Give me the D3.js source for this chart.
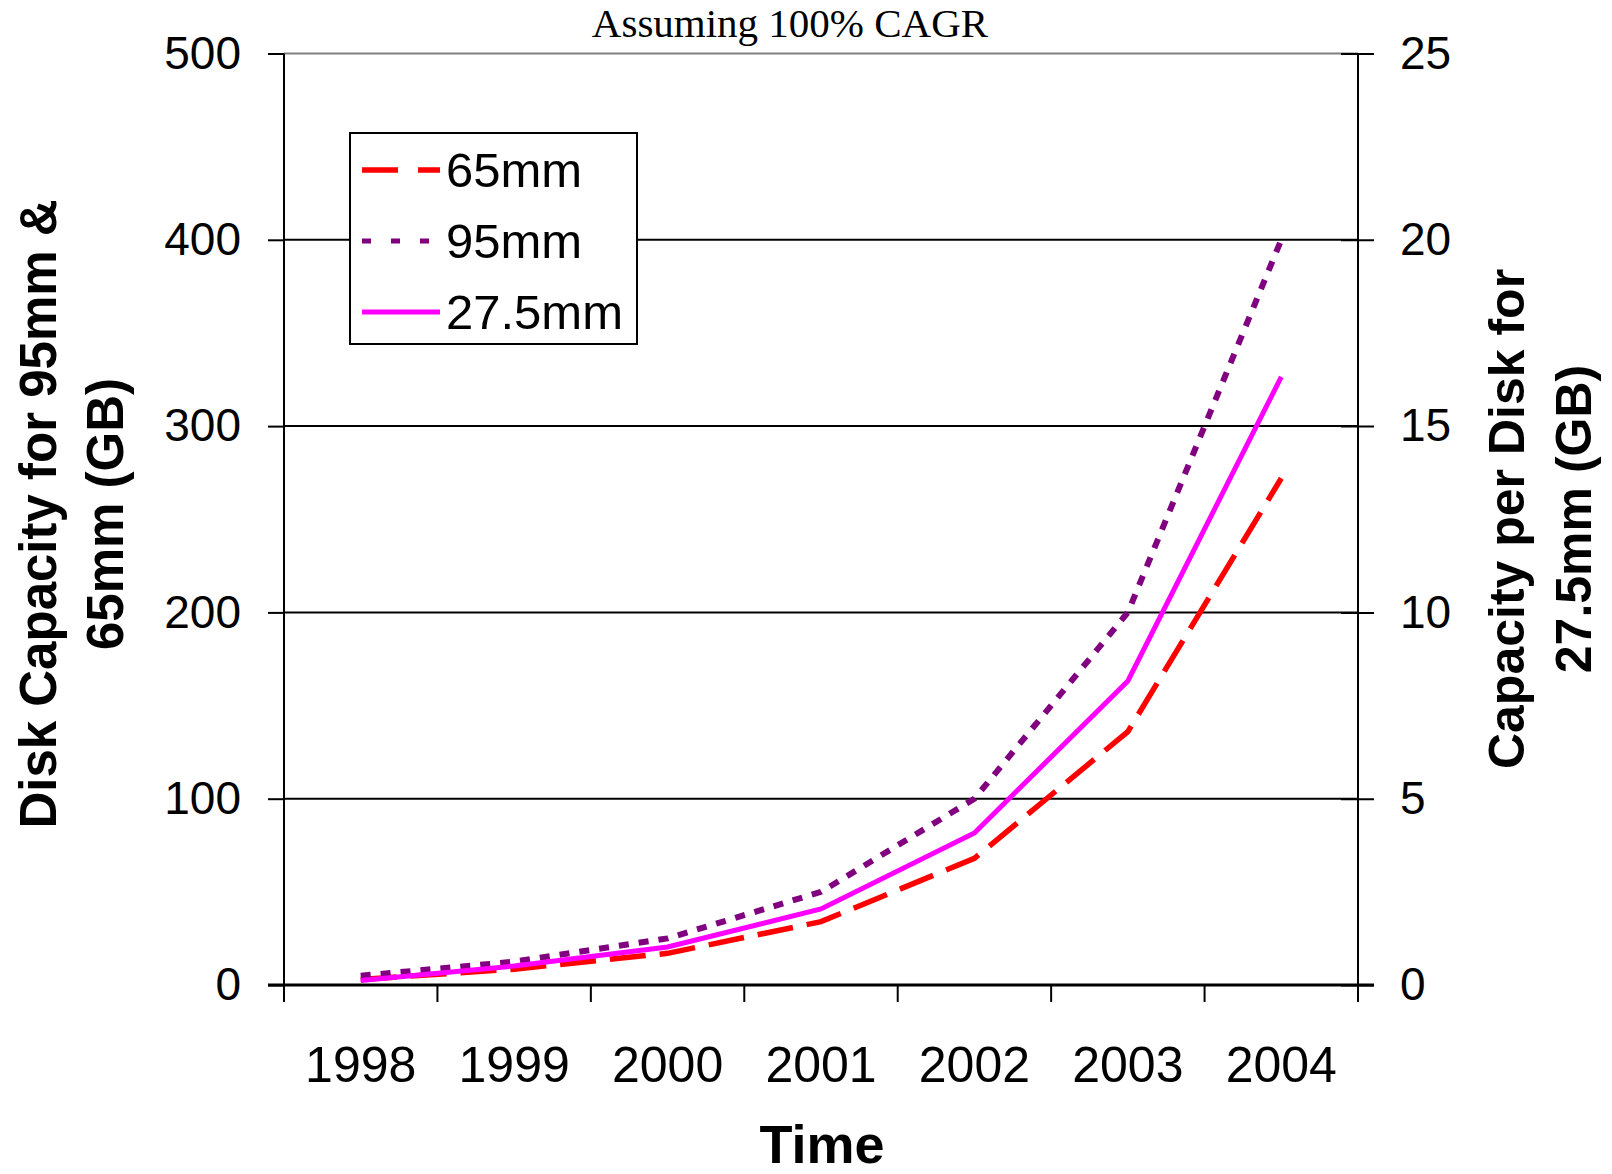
<!DOCTYPE html>
<html>
<head>
<meta charset="utf-8">
<script src="https://cdn.jsdelivr.net/npm/d3@7"></script>
<style>
  body { margin: 0; background: #fff; }
  text { font-family: "Liberation Sans", Arial, sans-serif; }
</style>
</head>
<body>
<svg width="1612" height="1174"></svg>
<script>
// disk capacity, assuming 100% CAGR
var years = ["1998", "1999", "2000", "2001", "2002", "2003", "2004"];
var cap65 = [3, 8.5, 17, 34, 68, 136, 272];         // left axis, GB
var cap95 = [5, 12.5, 25, 50, 100, 200, 400];       // left axis, GB
var cap275 = [0.12, 0.51, 1.02, 2.04, 4.08, 8.16, 16.32]; // right axis, GB
var leftTicks = [0, 100, 200, 300, 400, 500];
var rightTicks = [0, 5, 10, 15, 20, 25];

var svg = d3.select("svg"),
    plotL = 284, plotR = 1358, plotT = 53.5, plotB = 985;

var x = d3.scaleBand().domain(years).range([plotL, plotR]);
var yL = d3.scaleLinear().domain([0, 500]).range([plotB, plotT]);
var yR = d3.scaleLinear().domain([0, 25]).range([plotB, plotT]);

// gridlines
svg.append("g").selectAll("line")
    .data(leftTicks.filter(function (d) { return d > 0; }))
    .enter().append("line")
    .attr("x1", plotL).attr("x2", plotR)
    .attr("y1", function (d) { return yL(d); })
    .attr("y2", function (d) { return yL(d); })
    .attr("stroke", function (d) { return d == 500 ? "#808080" : "#000"; })
    .attr("stroke-width", 2);

// left axis
var gl = svg.append("g").attr("transform", "translate(" + plotL + ",0)")
    .call(d3.axisLeft(yL).tickValues(leftTicks).tickSize(16).tickPadding(27));
// right axis
var gr = svg.append("g").attr("transform", "translate(" + plotR + ",0)")
    .call(d3.axisRight(yR).tickValues(rightTicks).tickSize(16).tickPadding(26));
gr.selectAll(".tick line").attr("x1", -17);
// bottom axis: ticks on band edges
var gb = svg.append("g").attr("transform", "translate(0," + plotB + ")");
gb.append("line").attr("x1", plotL - 16).attr("x2", plotR + 16)
    .attr("stroke", "#000").attr("stroke-width", 3);
gb.selectAll(".tk").data(years.concat(["end"])).enter().append("line")
    .attr("x1", function (d, i) { return plotL + i * x.bandwidth(); })
    .attr("x2", function (d, i) { return plotL + i * x.bandwidth(); })
    .attr("y1", 0).attr("y2", 17)
    .attr("stroke", "#000").attr("stroke-width", 2);
gb.selectAll(".lb").data(years).enter().append("text")
    .attr("x", function (d) { return x(d) + x.bandwidth() / 2; })
    .attr("y", 97)
    .attr("text-anchor", "middle")
    .attr("font-size", 50)
    .text(function (d) { return d; });

[gl, gr].forEach(function (g) {
    g.select(".domain").attr("stroke-width", 2).attr("d", "M0," + plotB + "V" + plotT);
    g.selectAll(".tick line").attr("stroke-width", 2);
    g.selectAll(".tick text").attr("font-size", 46).attr("fill", "#000")
        .attr("font-family", "Liberation Sans, Arial, sans-serif");
});
gr.selectAll(".tick text").attr("text-anchor", "start");

// series
function drawLine(vals, scale, color, width, dash) {
    var line = d3.line()
        .x(function (d, i) { return x(years[i]) + x.bandwidth() / 2; })
        .y(function (d) { return scale(d); });
    svg.append("path").datum(vals)
        .attr("d", line)
        .attr("fill", "none")
        .attr("stroke", color)
        .attr("stroke-width", width)
        .attr("stroke-dasharray", dash);
}
drawLine(cap65, yL, "#ff0000", 5.5, "36,14");
drawLine(cap95, yL, "#800080", 6, "10,10");
drawLine(cap275, yR, "#ff00ff", 5, null);

// legend
var legend = svg.append("g").attr("transform", "translate(350,133)");
legend.append("rect").attr("width", 287).attr("height", 211)
    .attr("fill", "#fff").attr("stroke", "#000").attr("stroke-width", 2);
var legItems = [
    { name: "65mm", color: "#ff0000", dash: "36,20", w: 5.5 },
    { name: "95mm", color: "#800080", dash: "9,20", w: 5 },
    { name: "27.5mm", color: "#ff00ff", dash: null, w: 5 }
];
var li = legend.selectAll(".li").data(legItems).enter().append("g")
    .attr("transform", function (d, i) { return "translate(0," + (37 + i * 71) + ")"; });
li.append("line").attr("x1", 12).attr("x2", 90)
    .attr("stroke", function (d) { return d.color; })
    .attr("stroke-width", function (d) { return d.w; })
    .attr("stroke-dasharray", function (d) { return d.dash; });
li.append("text").attr("x", 96).attr("y", 17)
    .attr("font-size", 49)
    .text(function (d) { return d.name; });

// titles
svg.append("text").attr("x", 790).attr("y", 37)
    .attr("text-anchor", "middle")
    .style("font-family", "Liberation Serif, Times New Roman, serif")
    .attr("font-size", 41)
    .text("Assuming 100% CAGR");

svg.append("text").attr("x", 822).attr("y", 1163)
    .attr("text-anchor", "middle").attr("font-weight", "bold")
    .attr("font-size", 54).text("Time");

var lt = svg.append("text").attr("transform", "translate(56,514) rotate(-90)")
    .attr("text-anchor", "middle").attr("font-weight", "bold").attr("font-size", 51);
lt.append("tspan").attr("x", 0).attr("dy", 0).text("Disk Capacity for 95mm &");
lt.append("tspan").attr("x", 0).attr("dy", 67).text("65mm (GB)");

var rt = svg.append("text").attr("transform", "translate(1524,519) rotate(-90)")
    .attr("text-anchor", "middle").attr("font-weight", "bold").attr("font-size", 50);
rt.append("tspan").attr("x", 0).attr("dy", 0).text("Capacity per Disk for");
rt.append("tspan").attr("x", 0).attr("dy", 67).text("27.5mm (GB)");
</script>
</body>
</html>
